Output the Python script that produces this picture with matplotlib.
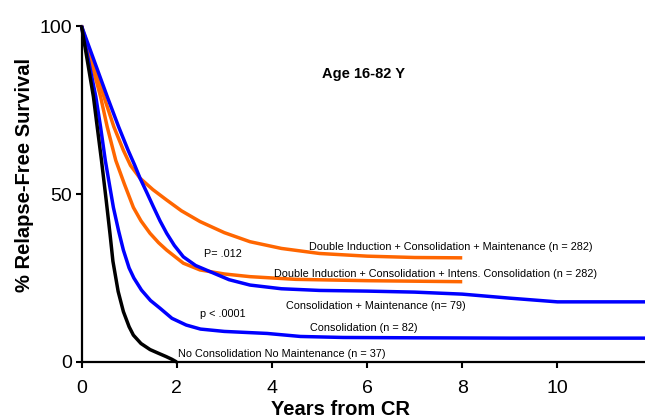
"""Relapse-free survival curves by post-remission therapy (age 16-82 y)."""

import matplotlib
matplotlib.use("Agg")
import matplotlib.pyplot as plt

BLUE = "#0000ff"
ORANGE = "#ff6600"
plt.rcParams["font.family"] = ["Liberation Sans", "DejaVu Sans"]

# Kaplan-Meier style curves (years, % relapse-free)
no_cons_x = [0, 0.25, 0.33, 0.42, 0.52, 0.6, 0.66, 0.77, 0.88, 1.0, 1.09, 1.25, 1.44, 1.6, 1.78, 1.9, 2.0]
no_cons_y = [100, 79, 70, 60, 48, 38, 30, 21, 15, 10.5, 8, 5.5, 3.7, 2.7, 1.6, 0.8, 0]

cons_x = [0, 0.3, 0.4, 0.5, 0.67, 0.78, 0.88, 1.0, 1.1, 1.26, 1.45, 1.65, 1.9, 2.2, 2.5, 3.0,
          3.9, 4.6, 5.5, 7, 9, 11.84]
cons_y = [100, 79, 70, 60, 46, 39, 33.3, 28, 25, 21.4, 18.3, 16, 13, 11, 9.8, 9.1,
          8.5, 7.6, 7.3, 7.2, 7.1, 7.1]

cons_maint_x = [0, 0.54, 0.78, 0.98, 1.12, 1.23, 1.37, 1.51, 1.65, 1.79, 1.95, 2.14, 2.4, 2.7,
                3.1, 3.54, 4.2, 5, 6, 7, 8, 9, 10, 11.84]
cons_maint_y = [100, 79, 70, 63, 58.5, 54.7, 50.5, 46.2, 42, 38.3, 34.7, 31.3, 28.7, 26.9,
                24.5, 22.9, 21.8, 21.3, 21.1, 20.8, 20.2, 19, 17.9, 17.9]

di_maint_x = [0, 0.47, 0.68, 0.88, 1.03, 1.23, 1.5, 1.79, 2.1, 2.49, 3.0, 3.54, 4.2, 5, 6, 7, 8]
di_maint_y = [100, 79, 70, 63, 58.5, 54.7, 51.3, 48.2, 45, 41.8, 38.5, 35.8, 33.8, 32.3, 31.5, 31.1, 31]

di_intens_x = [0, 0.4, 0.54, 0.72, 0.9, 1.09, 1.25, 1.44, 1.62, 1.79, 2.14, 2.49, 3.0, 3.54, 4.5, 6, 8]
di_intens_y = [100, 79, 70, 60, 53, 46, 42, 38.3, 35.5, 33.3, 29.4, 27.4, 26.2, 25.4, 24.6, 24.2, 23.9]

x_ticks = [0, 2, 4, 6, 8, 10]
y_ticks = [0, 50, 100]

# curve labels: (text, left x, baseline y)
labels = [
    ("Double Induction + Consolidation + Maintenance (n = 282)", 4.77, 33.3),
    ("Double Induction + Consolidation + Intens. Consolidation (n = 282)", 4.04, 25.4),
    ("Consolidation + Maintenance (n= 79)", 4.30, 15.7),
    ("Consolidation (n = 82)", 4.80, 9.2),
    ("No Consolidation No Maintenance (n = 37)", 2.03, 1.4),
    ("P= .012", 2.57, 31.3),
    ("p < .0001", 2.49, 13.5),
]


def main() -> None:
    fig = plt.figure(figsize=(6.45, 4.19), dpi=100)
    ax = fig.add_axes([81.5 / 645, 1 - 362 / 419, 1 - 81.5 / 645, 336 / 419])

    curves = [
        (di_maint_x, di_maint_y, ORANGE),
        (di_intens_x, di_intens_y, ORANGE),
        (cons_maint_x, cons_maint_y, BLUE),
        (cons_x, cons_y, BLUE),
        (no_cons_x, no_cons_y, "black"),
    ]
    for xs, ys, col in curves:
        ax.plot(xs, ys, color=col, lw=2.5, solid_joinstyle="round", solid_capstyle="butt",
                clip_on=False, zorder=3)

    ax.set_xlim(0, 11.84)
    ax.set_ylim(0, 100)
    ax.set_xticks(x_ticks)
    ax.set_yticks(y_ticks)
    for side in ("top", "right"):
        ax.spines[side].set_visible(False)
    for side in ("left", "bottom"):
        ax.spines[side].set_linewidth(1.6)
    ax.tick_params(axis="both", direction="out", length=4, width=1.5, labelsize=14)
    ax.tick_params(axis="x", pad=9)
    ax.tick_params(axis="y", pad=3)

    for text, x, y in labels:
        ax.text(x, y, text, fontsize=7.8, ha="left", va="baseline")

    ax.text(5.93, 85.7, "Age 16-82 Y", fontsize=10.5, fontweight="bold", ha="center", va="center")

    fig.text(25 / 645, 1 - 175 / 419, "% Relapse-Free Survival", rotation=90,
             fontsize=14.5, fontweight="bold", ha="center", va="center")
    # sits right on the bottom edge, as in the original; keep the descent box inside
    fig.text(340.5 / 645, 0.5 / 419, "Years from CR", fontsize=14.5, fontweight="bold",
             ha="center", va="bottom")

    fig.savefig("out.png", dpi=100)
    plt.close(fig)


if __name__ == "__main__":
    main()
